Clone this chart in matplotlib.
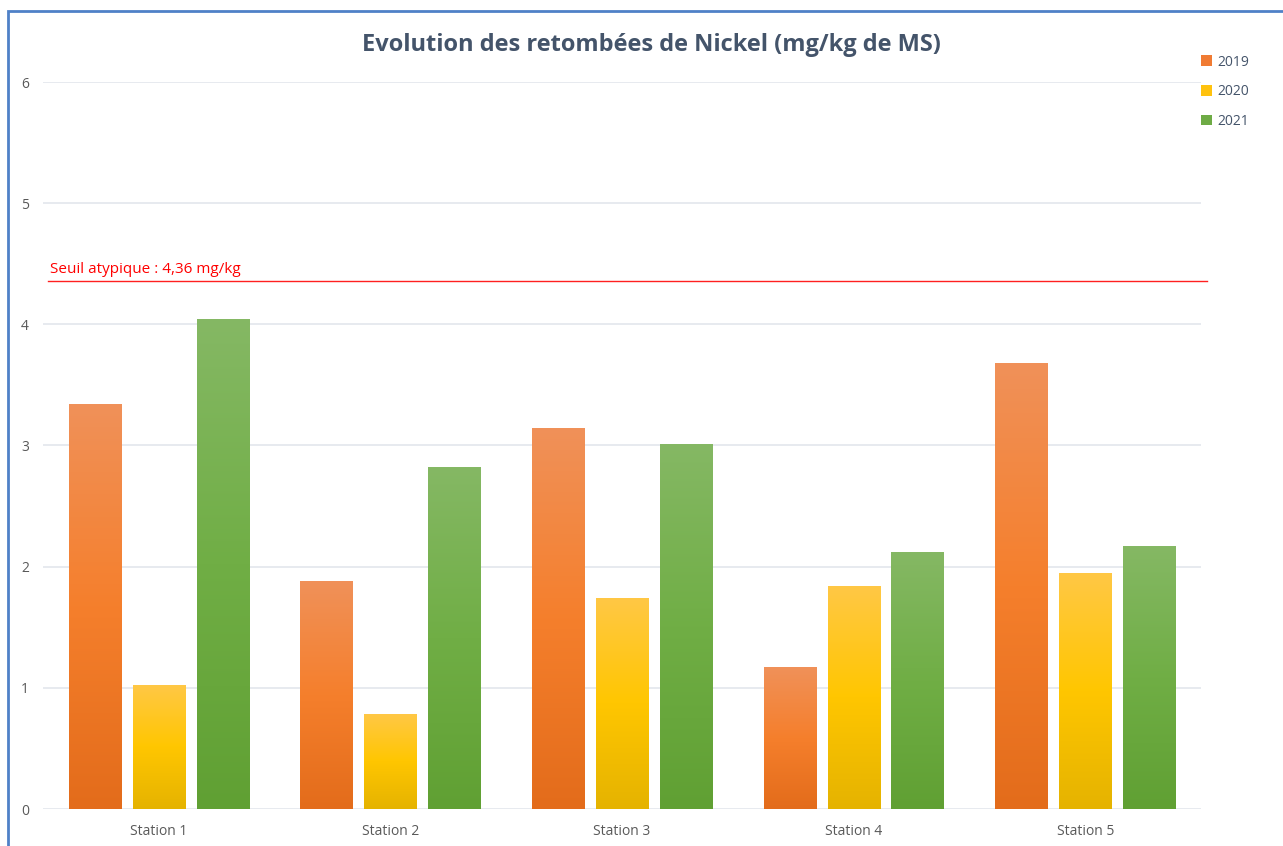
import numpy as np
import matplotlib.pyplot as plt
from matplotlib.colors import LinearSegmentedColormap
from matplotlib.patches import Rectangle, Patch

plt.rcParams['font.family'] = ['Open Sans', 'DejaVu Sans']

stations = ['Station 1', 'Station 2', 'Station 3', 'Station 4', 'Station 5']
years = ['2019', '2020', '2021']
v2019 = [3.34, 1.88, 3.14, 1.17, 3.68]
v2020 = [1.02, 0.78, 1.74, 1.84, 1.94]
v2021 = [4.04, 2.82, 3.01, 2.12, 2.17]
seuil = 4.36

# bottom / middle / top colour of each gradient
stops = {
    '2019': ['#E36C1B', '#F57F2C', '#F09159'],
    '2020': ['#E5B300', '#FFC600', '#FFC845'],
    '2021': ['#60A033', '#70AE45', '#85B864'],
}
legend_col = {'2019': '#F07B33', '2020': '#FFC20E', '2021': '#6EAB45'}

fig = plt.figure(figsize=(12.83, 8.46), dpi=100)
ax = fig.add_axes([43 / 1283, 1 - 809 / 846, 1158 / 1283, 727 / 846])

x = np.arange(len(stations))
width = 0.225
offsets = [-0.276, 0.0, 0.276]
grad = np.linspace(0, 1, 256).reshape(-1, 1)

for yr, vals, off in zip(years, [v2019, v2020, v2021], offsets):
    cmap = LinearSegmentedColormap.from_list(yr, stops[yr])
    for xi, v in zip(x, vals):
        x0 = xi + off - width / 2
        ax.imshow(grad, cmap=cmap, origin='lower', aspect='auto',
                  extent=[x0, x0 + width, 0, v], zorder=3)

ax.set_xlim(-0.5, 4.5)
ax.set_ylim(0, 6)
ax.set_yticks(range(7))
ax.set_xticks(x)
ax.set_xticklabels(stations)
ax.tick_params(length=0, colors='#595959', labelsize=10)
ax.tick_params(axis='y', pad=10)
ax.tick_params(axis='x', pad=11)
ax.grid(axis='y', color='#E3E6EC', linewidth=1.2, zorder=0)
ax.set_axisbelow(True)
for s in ax.spines.values():
    s.set_visible(False)

# threshold line
ax.axhline(seuil, xmin=5 / 1158, xmax=1164 / 1158, color='#FF2020',
           linewidth=1, clip_on=False, zorder=4)
ax.text(-0.47, seuil + 0.03, 'Seuil atypique : 4,36 mg/kg', color='#FF0000',
        fontsize=11, va='bottom', ha='left')

fig.text(651 / 1283, 1 - 45 / 846, 'Evolution des retombées de Nickel (mg/kg de MS)',
         ha='center', va='center', fontsize=17, fontweight='bold', color='#44546A')

handles = [Patch(facecolor=legend_col[yr], label=yr) for yr in years]
fig.legend(handles=handles, loc='upper left', bbox_to_anchor=(1188 / 1283, 1 - 42 / 846),
           frameon=False, fontsize=10, handlelength=0.8, handleheight=0.8,
           handletextpad=0.4, labelspacing=1.05, labelcolor='#44546A')

# chart border
fig.add_artist(Rectangle((8 / 1283, -0.1), 1.2, 1 - 11 / 846 + 0.1,
                         transform=fig.transFigure, fill=False,
                         edgecolor='#4F81C7', linewidth=2))

fig.savefig('out.png', dpi=100)
